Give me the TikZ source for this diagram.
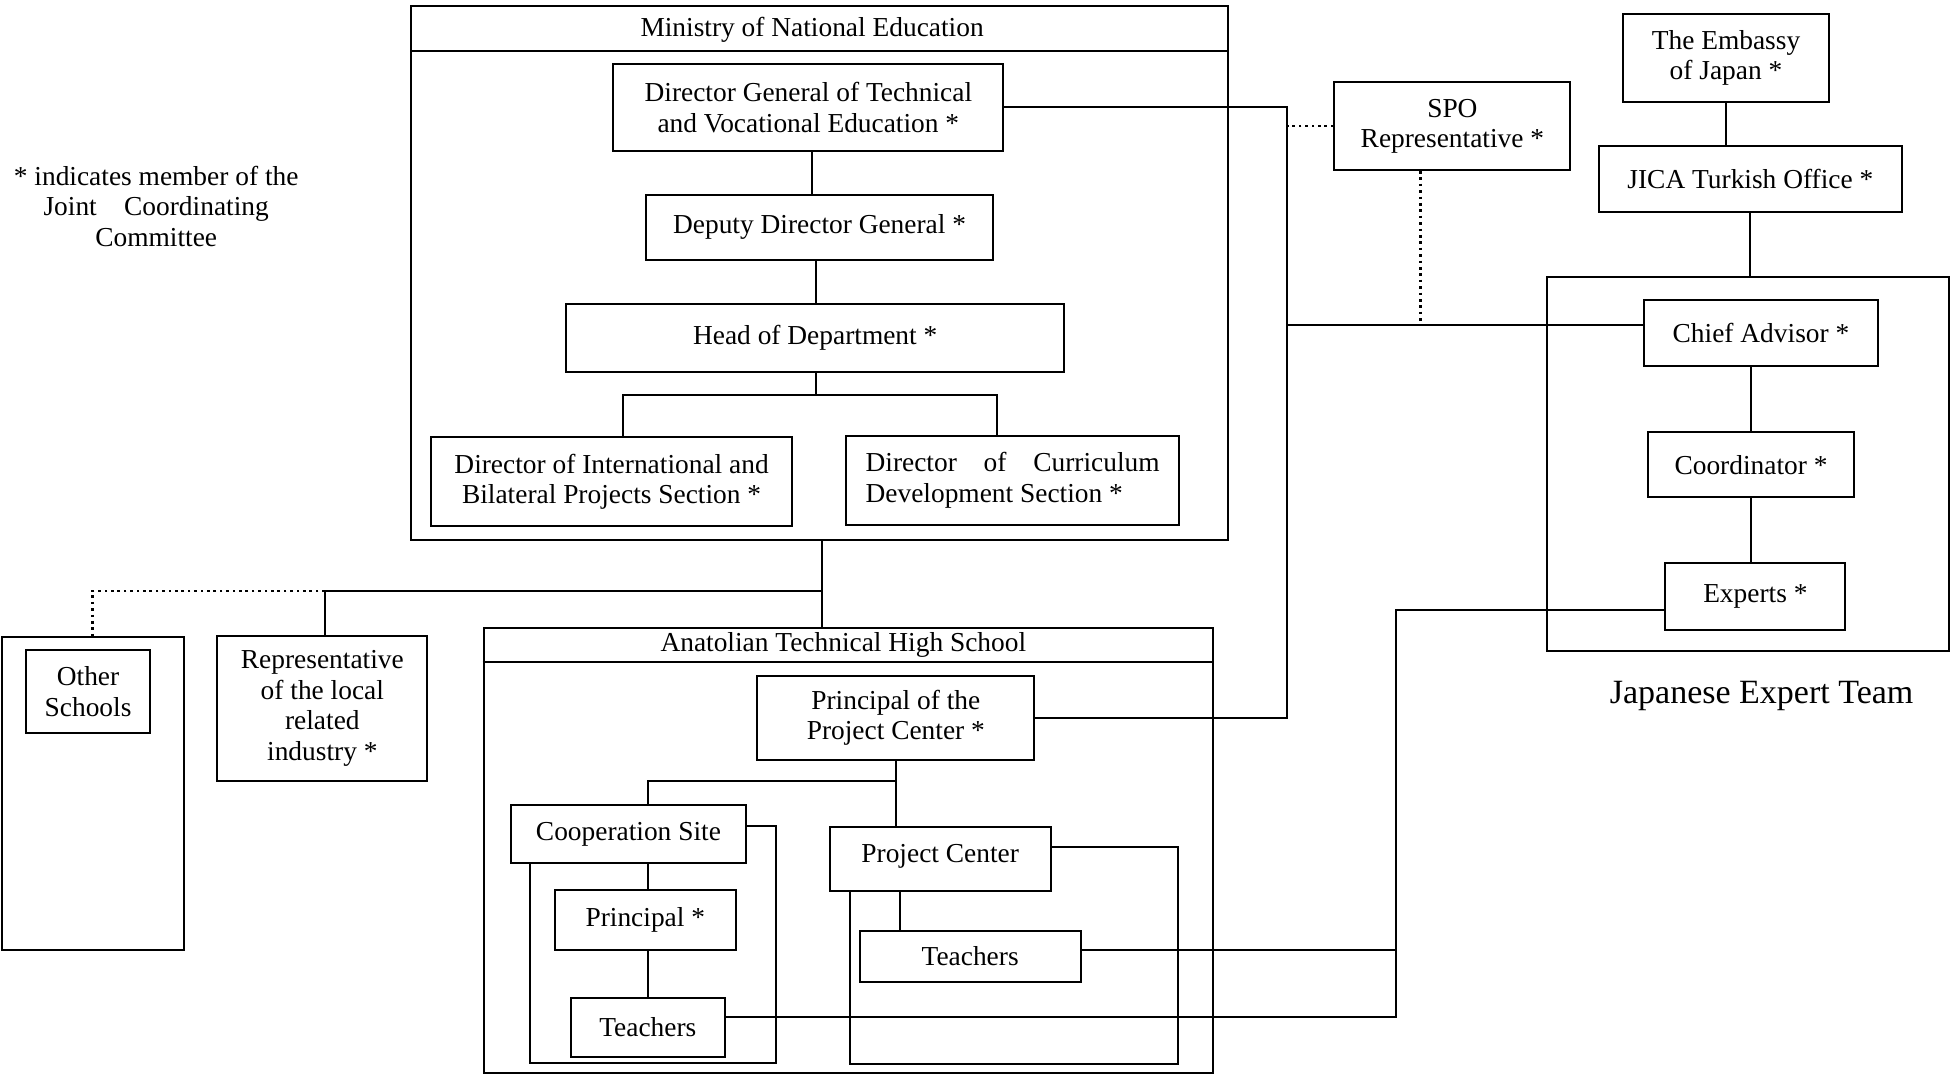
\documentclass[tikz,border=0pt]{standalone}
\usepackage{fontspec}
\setmainfont{Liberation Serif}
\usetikzlibrary{calc}
\tikzset{
  box/.style={draw, line width=1pt, inner sep=0pt, align=center, font=\fontsize{13.7}{15.2}\selectfont},
  conn/.style={line width=1pt},
  dotc/.style={line width=1.3pt, dash pattern=on 1.3pt off 1.9pt},
  lbl/.style={inner sep=0pt, align=center, font=\fontsize{13.7}{15.2}\selectfont},
}
\newcommand\bxt[7][]{%
  \pgfmathsetmacro\bcx{(#3+#5)/2}%
  \pgfmathsetmacro\bcy{(#4+#6)/2}%
  \pgfmathsetmacro\bw{(#5-#3)*0.6247}%
  \pgfmathsetmacro\bh{(#6-#4)*0.6247}%
  \node[box,#1,minimum width=\bw pt,minimum height=\bh pt] (#2) at (\bcx,\bcy) {#7};}
\newcommand\bx[6][]{\bxt[#1]{#2}{#3}{#4}{#5}{#6}{}}
\begin{document}
\begin{tikzpicture}[x=0.6247pt,y=-0.6247pt]
\fill[white] (0,0) rectangle (1568,863);
\useasboundingbox (0,0) rectangle (1568,863);

% ---------- Ministry ----------
\bx{min}{329}{5}{983}{432}
\node[lbl] (mint) at (650,24) {Ministry of National Education};
\coordinate (mline) at (0,41);
\draw[conn] (min.west |- mline) -- (min.east |- mline);

\bxt{dg}{491}{51}{803}{121}{Director General of Technical\\and Vocational Education *}
\bxt{ddg}{517}{156}{795}{208}{Deputy Director General *}
\bxt{hod}{453}{243}{852}{298}{Head of Department *}
\bxt{dib}{345}{350}{634}{421}{Director of International and\\Bilateral Projects Section *}
\bxt[align=left]{dcd}{677}{349}{944}{420}{\makebox[147pt][s]{Director\hfill of\hfill Curriculum}\\Development Section *}

\coordinate (v1) at (650,0);
\coordinate (v2) at (653,0);
\coordinate (b1) at (499,316);
\coordinate (b2) at (798,316);
\draw[conn] (v1 |- dg.south) -- (v1 |- ddg.north);
\draw[conn] (v2 |- ddg.south) -- (v2 |- hod.north);
\draw[conn] (v2 |- hod.south) -- (v2 |- b1);
\draw[conn] (b1 |- dib.north) -- (b1) -- (b2) -- (b2 |- dcd.north);

% ---------- left side ----------
\bx{oth}{2}{510}{147}{760}
\bxt{ots}{21}{520}{120}{587}{Other\\Schools}
\bxt{rep}{174}{509}{342}{625}{Representative\\of the local\\related\\industry *}

\node[lbl] (note) at (125,165) {* indicates member of the\\Joint\hspace{1em}Coordinating\\Committee};

% ---------- Anatolian ----------
\bx{ath}{387}{503}{971}{859}
\node[lbl] (atht) at (675,516) {Anatolian Technical High School};
\coordinate (aline) at (0,530);
\draw[conn] (ath.west |- aline) -- (ath.east |- aline);

\bxt{ppc}{606}{541}{828}{608}{Principal of the\\Project Center *}
\bxt{cs}{409}{644}{597}{691}{Cooperation Site}
\bxt{pr}{444}{712}{589}{760}{Principal *}
\bxt{tcs}{457}{799}{580}{846}{Teachers}
\bxt[text depth=6pt]{pc}{664}{662}{841}{713}{Project Center}
\bxt{tpc}{688}{745}{865}{786}{Teachers}

% ministry -> school, branches
\coordinate (mj) at (658,473);
\coordinate (rj) at (260,473);
\coordinate (oj) at (74,473);
\draw[conn] (mj |- min.south) -- (mj |- ath.north);
\draw[conn] (mj) -- (rj) -- (rj |- rep.north);
\draw[dotc] (rj) -- (oj) -- (oj |- oth.north);

% school internal
\coordinate (pb) at (717,625);
\coordinate (pl) at (519,625);
\coordinate (pv) at (720,0);
\draw[conn] (pb |- ppc.south) -- (pb |- pc.north);
\draw[conn] (pb) -- (pl) -- (pl |- cs.north);
\draw[conn] (pl |- cs.south) -- (pl |- pr.north);
\draw[conn] (pl |- pr.south) -- (pl |- tcs.north);
\draw[conn] (pv |- pc.south) -- (pv |- tpc.north);

% group brackets
\coordinate (cb1) at (621,661);
\coordinate (cb2) at (621,851);
\coordinate (cb3) at (424,851);
\draw[conn] (cs.east |- cb1) -- (cb1) -- (cb2) -- (cb3) -- (cb3 |- cs.south);
\coordinate (pb1) at (943,678);
\coordinate (pb2) at (943,852);
\coordinate (pb3) at (680,852);
\draw[conn] (pc.east |- pb1) -- (pb1) -- (pb2) -- (pb3) -- (pb3 |- pc.south);

% ---------- right side ----------
\bxt{spo}{1068}{66}{1257}{136}{SPO\\Representative *}
\bxt{emb}{1299}{11}{1464}{82}{The Embassy\\of Japan *}
\bxt{jica}{1280}{117}{1522}{170}{JICA Turkish Office *}
\bx{jet}{1238}{222}{1560}{521}
\bxt{ca}{1316}{240}{1503}{293}{Chief Advisor *}
\bxt{co}{1319}{346}{1484}{398}{Coordinator *}
\bxt{ex}{1333}{451}{1477}{504}{Experts *}
\node[lbl, font=\fontsize{17}{20}\selectfont] (jetl) at (1410,557) {Japanese Expert Team};

\coordinate (mx) at (1030,0);
\coordinate (mca) at (1030,260);
\coordinate (spod) at (1137,260);
\draw[conn] (dg.east) -- (mx |- dg.east) -- (mx |- ppc.east) -- (ppc.east);
\draw[conn] (mca) -- (ca.west |- mca);
\draw[dotc] (spo.west) -- (mx |- spo.west);
\draw[dotc] (spod |- spo.south) -- (spod);

\draw[conn] (emb.south) -- (emb.south |- jica.north);
\draw[conn] (jica.south) -- (jica.south |- jet.north);
\draw[conn] (co.north) -- (co.north |- ca.south);
\draw[conn] (co.south) -- (co.south |- ex.north);

\coordinate (ev) at (1117,488);
\coordinate (t1) at (1117,760);
\coordinate (t2) at (1117,814);
\draw[conn] (ex.west |- ev) -- (ev) -- (t2) -- (tcs.east |- t2);
\draw[conn] (tpc.east |- t1) -- (t1);
\end{tikzpicture}
\end{document}
